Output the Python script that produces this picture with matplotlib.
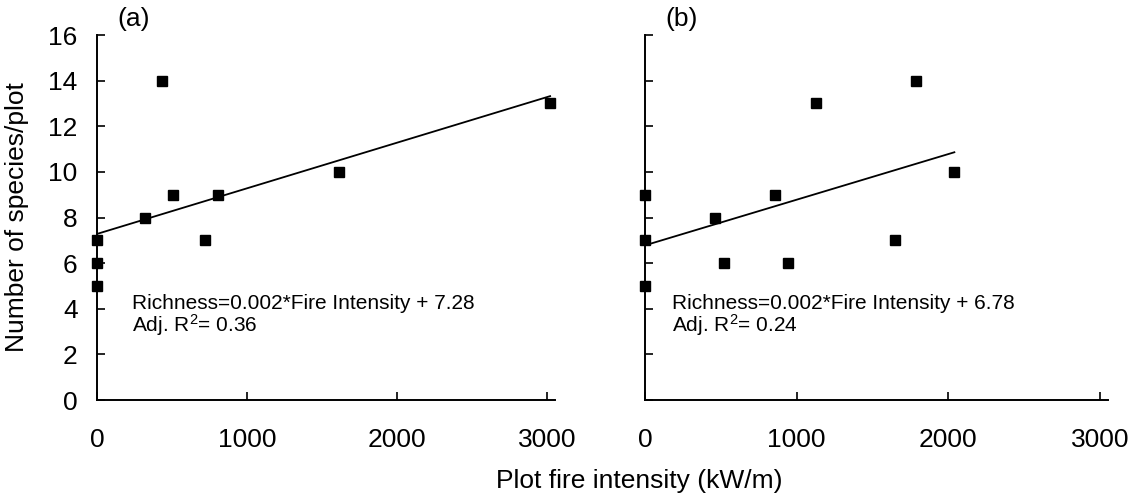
import matplotlib
matplotlib.use("Agg")
import matplotlib.pyplot as plt

plt.rcParams['font.family'] = ['Liberation Sans', 'DejaVu Sans']
plt.rcParams['mathtext.fontset'] = 'custom'
plt.rcParams['mathtext.rm'] = 'Liberation Sans'
plt.rcParams['mathtext.it'] = 'Liberation Sans:italic'

# panel (a)
intensity_a = [0, 0, 0, 320, 435, 505, 720, 805, 1610, 3020]
richness_a = [5, 6, 7, 8, 14, 9, 7, 9, 10, 13]
slope_a, intercept_a, r2_a = 0.002, 7.28, 0.36

# panel (b)
intensity_b = [0, 0, 0, 462, 522, 860, 940, 1125, 1650, 1785, 2040]
richness_b = [5, 7, 9, 8, 6, 9, 6, 13, 7, 14, 10]
slope_b, intercept_b, r2_b = 0.002, 6.78, 0.24

x_ticks = [0, 1000, 2000, 3000]
y_ticks = [0, 2, 4, 6, 8, 10, 12, 14, 16]

fig = plt.figure(figsize=(11.4, 5), dpi=100)
ax_a = fig.add_axes([0.0851, 0.2, 0.4018, 0.73])
ax_b = fig.add_axes([0.5658, 0.2, 0.4061, 0.73])

panels = [
    (ax_a, intensity_a, richness_a, slope_a, intercept_a, r2_a, '(a)', True, 0.076),
    (ax_b, intensity_b, richness_b, slope_b, intercept_b, r2_b, '(b)', False, 0.058),
]

for ax, xs, ys, slope, icpt, r2, tag, show_y, tx in panels:
    ax.plot(xs, ys, 's', color='black', markersize=7, clip_on=False, zorder=3)
    xmax = max(xs)
    ax.plot([0, xmax], [icpt, icpt + slope * xmax], color='black', linewidth=1.3)

    ax.set_xlim(0, 3053)
    ax.set_ylim(0, 16)
    ax.set_xticks(x_ticks)
    ax.set_yticks(y_ticks)
    if not show_y:
        ax.set_yticklabels([])
    for side in ['top', 'right']:
        ax.spines[side].set_visible(False)
    for side in ['left', 'bottom']:
        ax.spines[side].set_linewidth(1.4)
    ax.tick_params(direction='in', length=6, width=1.2, labelsize=19)
    ax.tick_params(axis='x', pad=20)
    ax.tick_params(axis='y', pad=14)

    # regression equation, two lines
    ax.text(tx, 0.250, f"Richness={slope}*Fire Intensity + {icpt:.2f}",
            transform=ax.transAxes, fontsize=15, va='baseline')
    ax.text(tx, 0.186, f"Adj. R$^2$= {r2:.2f}",
            transform=ax.transAxes, fontsize=15, va='baseline')
    ax.text(0.045, 1.045, tag, transform=ax.transAxes, fontsize=19, va='center')

ax_a.set_ylabel("Number of species/plot", fontsize=19, labelpad=14)
fig.text(0.5605, 0.038, "Plot fire intensity (kW/m)", fontsize=19, ha='center', va='center')

fig.savefig("out.png", dpi=100)
